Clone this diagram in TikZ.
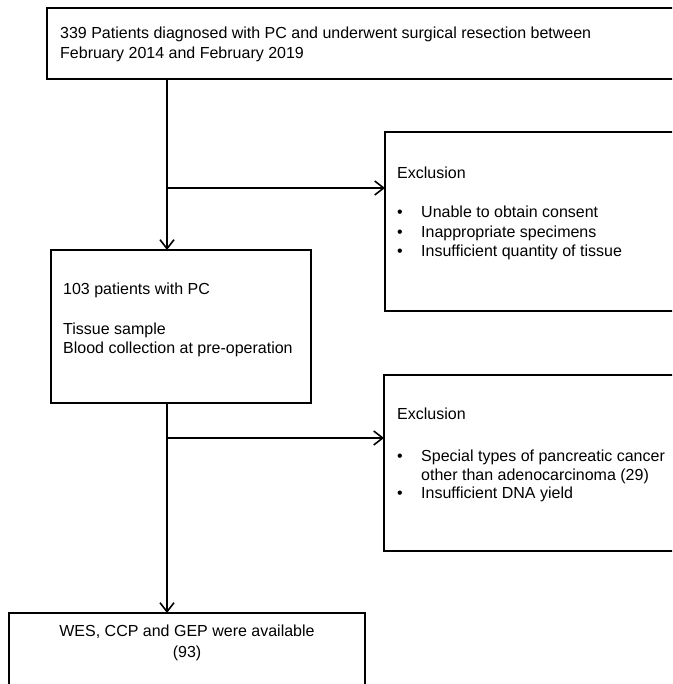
\documentclass[tikz,border=0pt]{standalone}
\usepackage{fontspec}
\setmainfont{Liberation Sans}
\usetikzlibrary{arrows.meta}
\begin{document}
\begin{tikzpicture}[x=1pt,y=-1pt,
 box/.style={draw=black, line width=1.2pt, inner sep=0pt, outer sep=0pt, anchor=north west},
 arr/.style={line width=1.6pt, -{Straight Barb[length=9pt,width=14pt,line width=1.6pt]}},
 txt/.style={anchor=base west, inner sep=0pt, font=\fontsize{16}{19}\selectfont},
 ctxt/.style={anchor=base, inner sep=0pt, font=\fontsize{16}{19}\selectfont}]
\useasboundingbox (0,0) rectangle (672,684);
\clip (0,0) rectangle (672,684);
% boxes
\node[box, minimum width=660pt, minimum height=71pt] (top) at (47,8) {};
\node[box, minimum width=260pt, minimum height=153pt] (b2) at (51,250) {};
\node[box, minimum width=320pt, minimum height=179pt] (ex1) at (385,132) {};
\node[box, minimum width=320pt, minimum height=176pt] (ex2) at (384,375) {};
\node[box, minimum width=356pt, minimum height=100pt] (b3) at (9,613) {};
% texts
\node[txt] (t1a) at (60,39) {339 Patients diagnosed with PC and underwent surgical resection between};
\node[txt] (t1b) at (60,59) {February 2014 and February 2019};
\node[txt] (t2a) at (63,294) {103 patients with PC};
\node[txt] (t2b) at (63,334) {Tissue sample};
\node[txt] (t2c) at (63,353) {Blood collection at pre-operation};
\node[txt] (e1h) at (397,179) {Exclusion};
\node[txt] (e1b1) at (397,218) {•};
\node[txt] (e1t1) at (421,218) {Unable to obtain consent};
\node[txt] (e1b2) at (397,237) {•};
\node[txt] (e1t2) at (421,237) {Inappropriate specimens};
\node[txt] (e1b3) at (397,256) {•};
\node[txt] (e1t3) at (421,256) {Insufficient quantity of tissue};
\node[txt] (e2h) at (397,419) {Exclusion};
\node[txt] (e2b1) at (397,461) {•};
\node[txt] (e2t1) at (421,461) {Special types of pancreatic cancer};
\node[txt] (e2t1b) at (421,480) {other than adenocarcinoma (29)};
\node[txt] (e2b2) at (397,498) {•};
\node[txt] (e2t2) at (421,498) {Insufficient DNA yield};
\node[ctxt] (t3a) at (187,636) {WES, CCP and GEP were available};
\node[ctxt] (t3b) at (187,657) {(93)};
% connectors
\coordinate (spine) at (167,0);
\coordinate (j1) at (167,188);
\coordinate (j2) at (167,438);
\draw[arr] (top.south -| spine) -- (b2.north -| spine);
\draw[arr] (j1) -- (j1 -| ex1.west);
\draw[arr] (b2.south -| spine) -- (b3.north -| spine);
\draw[arr] (j2) -- (j2 -| ex2.west);
\end{tikzpicture}
\end{document}
